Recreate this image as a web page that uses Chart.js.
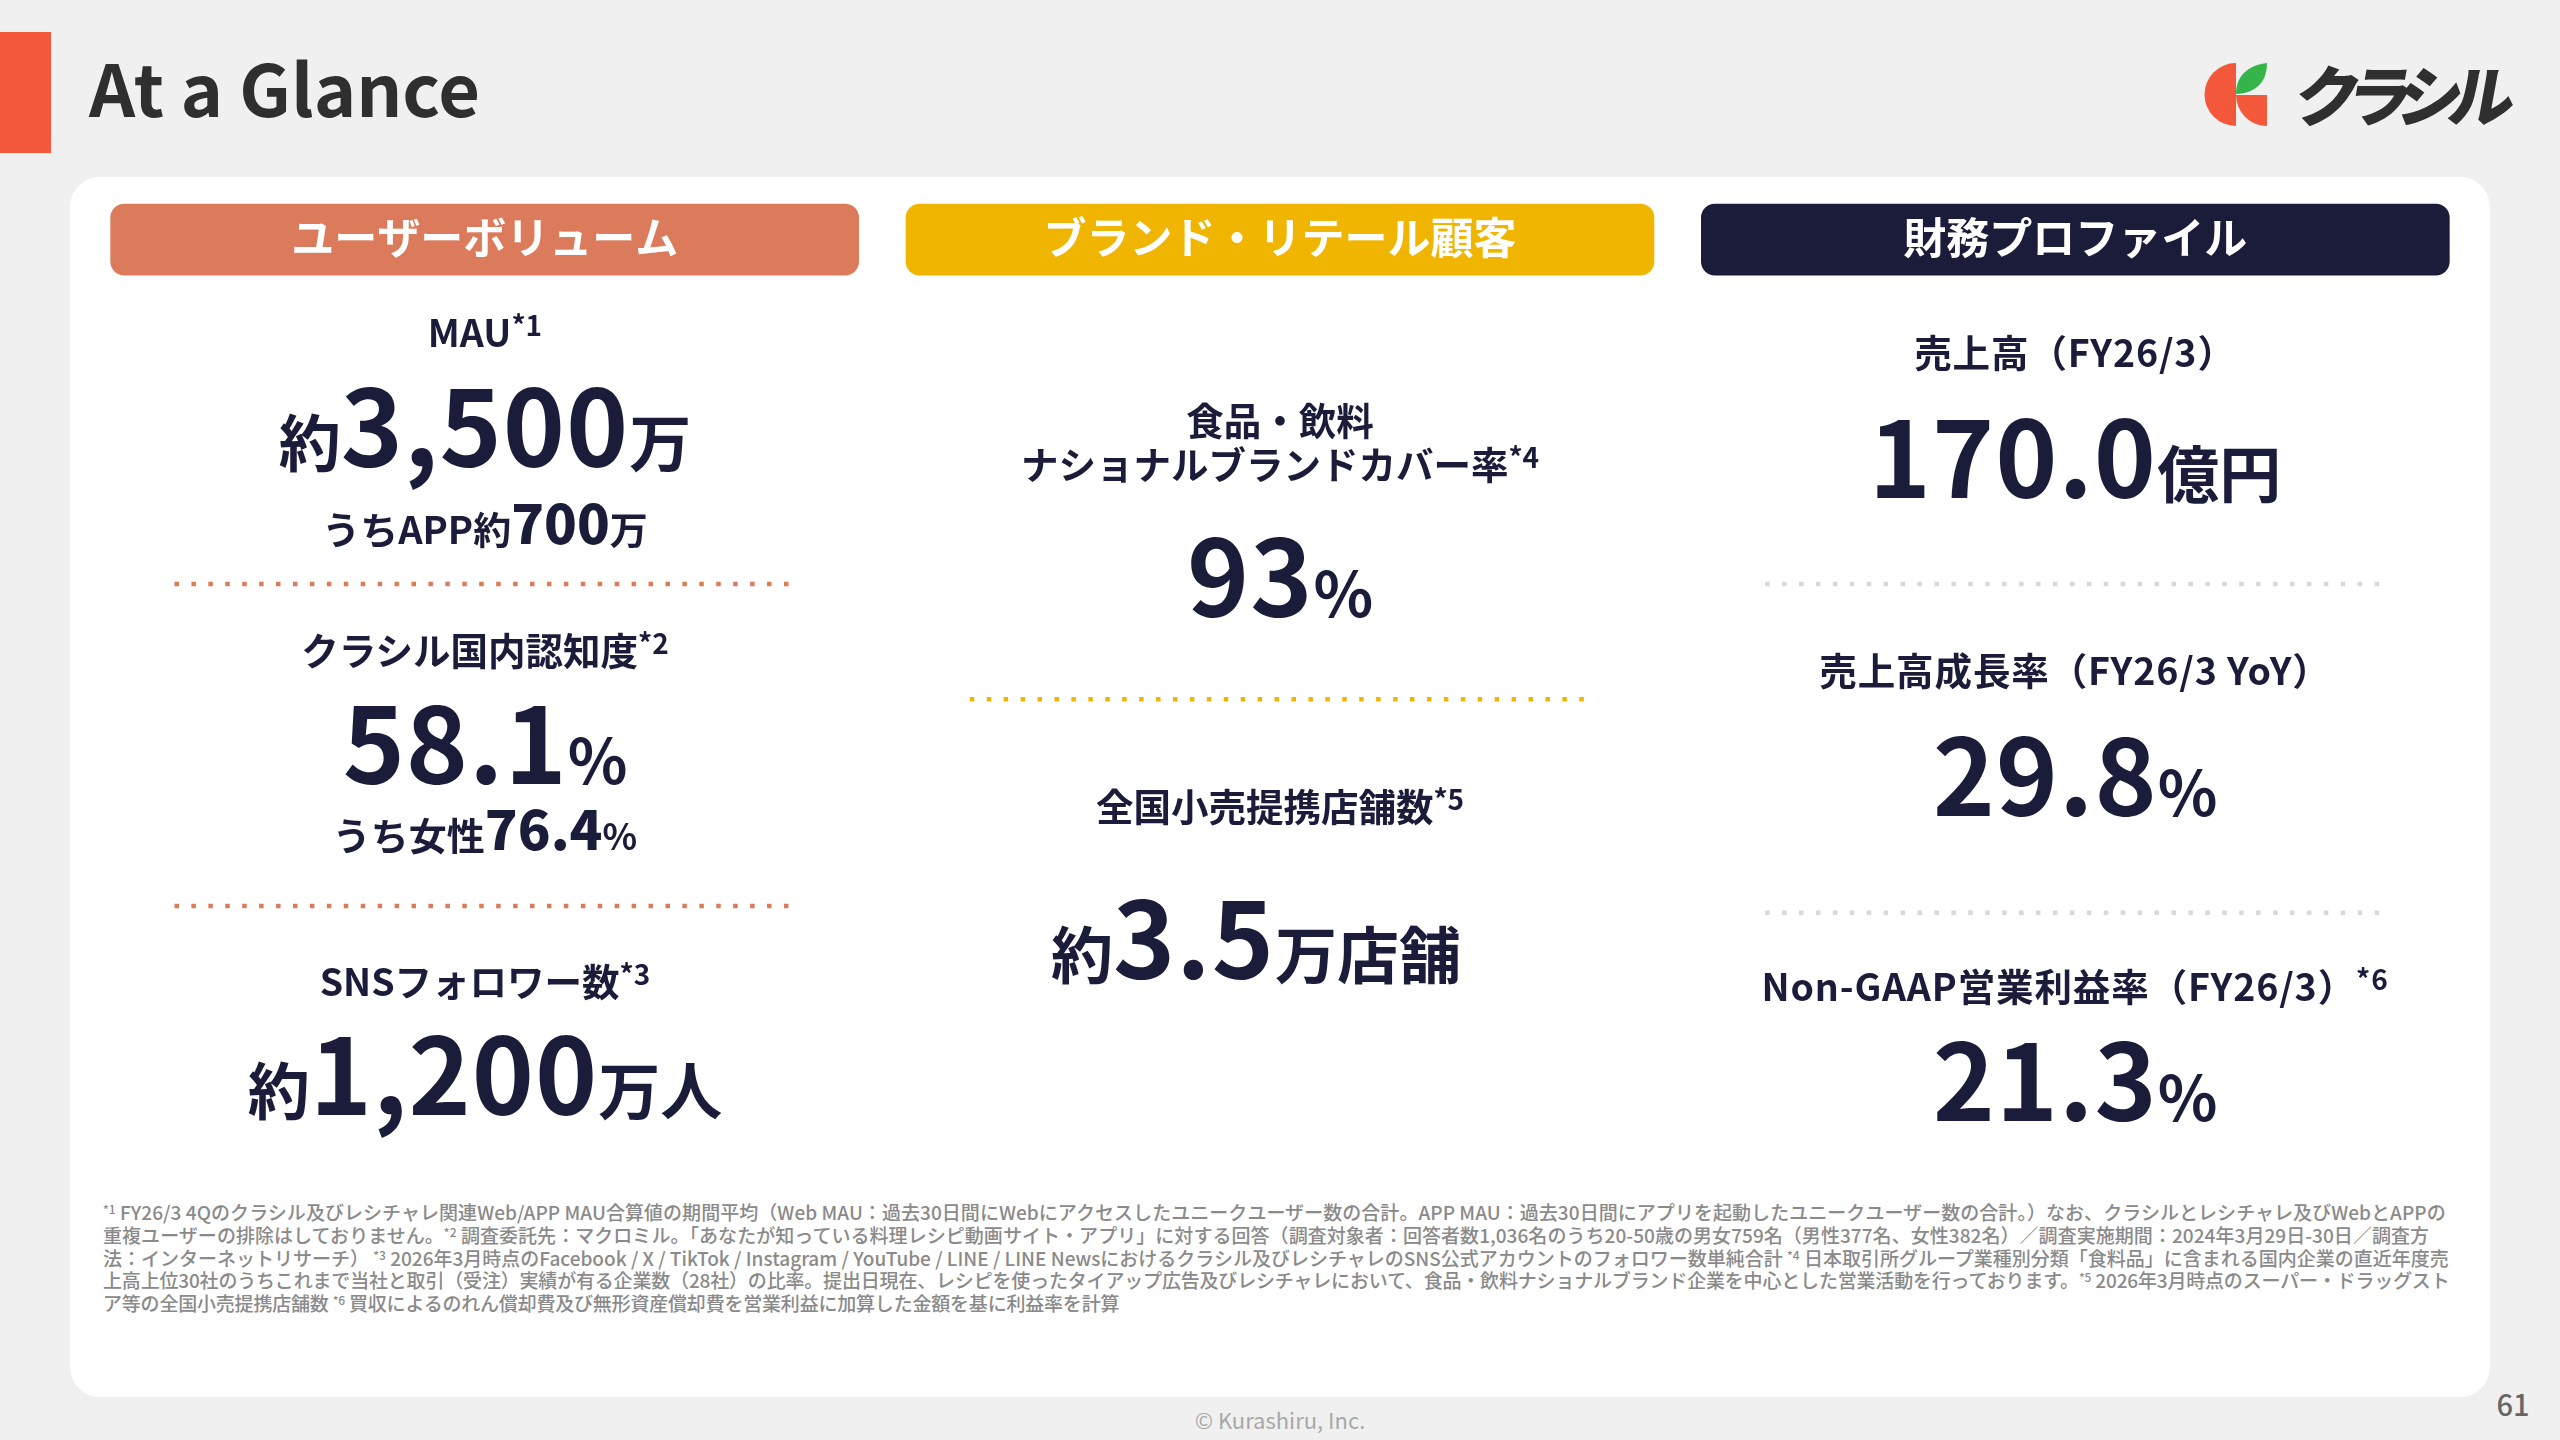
<!DOCTYPE html>
<html lang="ja">
<head>
<meta charset="utf-8">
<title>At a Glance</title>
<script src="https://cdn.jsdelivr.net/npm/chart.js"></script>
<style>
  html, body { margin: 0; padding: 0; background: #f0f0f0; }
  body { position: relative; width: 2560px; height: 1440px; overflow: hidden; font-family: "Noto Sans CJK JP", "Noto Sans", sans-serif; color: #1b1b3a; }
  .abs { position: absolute; }
  #accent { left: 0; top: 32px; width: 51px; height: 121px; background: #f4583a; }
  #title { left: 89px; top: 85px; transform: translateY(-50%); font-size: 72px; font-weight: 700; color: #2f2f2f; white-space: nowrap; }
  #card { left: 70px; top: 177px; width: 2420px; height: 1220px; background: #fff; border-radius: 30px; }
  #chart { left: 87px; top: 200px; }
  .t { position: absolute; transform: translate(-50%, -50%); white-space: nowrap; font-weight: 700; text-align: center; line-height: 1.18; }
  .label { font-size: 37.5px; }
  .label sup { font-size: 28px; line-height: 0; vertical-align: 11px; }
  .fin { letter-spacing: 0.9px; }
  .big { font-size: 105.5px; letter-spacing: 1px; }
  .unit { font-size: 62px; letter-spacing: 0; }
  .sub { font-size: 38px; }
  .sub b { font-size: 54px; }
  .sub i { font-style: normal; font-size: 36px; }
  #notes { left: 103px; top: 1201px; font-size: 19px; line-height: 22.8px; color: #8a8a8a; font-weight: 500; white-space: nowrap; }
  #notes sup { font-size: 12px; line-height: 0; vertical-align: 6px; }
  #copy { left: 1280px; top: 1419px; transform: translate(-50%, -50%); font-size: 22px; color: #a8a8a8; white-space: nowrap; }
  #page { left: 2513px; top: 1403px; transform: translate(-50%, -50%); font-size: 29px; color: #666; font-weight: 500; }
  #logo { left: 2200px; top: 50px; }
  #logoText { left: 2296px; top: 92px; transform: translateY(-50%) skewX(-10deg); font-size: 66px; font-weight: 900; letter-spacing: -14px; color: #2f2f2f; white-space: nowrap; }
</style>
</head>
<body>
<div id="accent" class="abs"></div>
<div id="title" class="abs">At a Glance</div>
<svg id="logo" class="abs" width="80" height="90" viewBox="2200 50 80 90">
  <path d="M2236 63 A31.5 31.5 0 0 0 2236 126 Z" fill="#f4583a"/>
  <path d="M2236 95 H2267 V126 A31 31 0 0 1 2236 95 Z" fill="#f4583a"/>
  <path d="M2236 94 C2236 76 2248 65 2267 63 C2267 82 2256 93 2236 94 Z" fill="#35b44a"/>
</svg>
<div id="logoText" class="abs">クラシル</div>
<div id="card" class="abs"></div>
<canvas id="chart" class="abs" width="2386" height="800"></canvas>
<div id="kpis"></div>
<div id="notes" class="abs"></div>
<div id="copy" class="abs">© Kurashiru, Inc.</div>
<div id="page" class="abs">61</div>

<script>
// data
const headers = ['ユーザーボリューム', 'ブランド・リテール顧客', '財務プロファイル'];
const headerColors = ['#db7b5b', '#f0b500', '#1b1b3a'];

const userLabels = ['MAU', 'クラシル国内認知度', 'SNSフォロワー数'];
const userNotes = ['*1', '*2', '*3'];
const userPrefix = ['約', '', '約'];
const userValues = ['3,500', '58.1', '1,200'];
const userUnits = ['万', '%', '万人'];
const userSubs = ['うちAPP約<b>700</b>万', 'うち女性<b>76.4</b><i>%</i>', ''];

const brandLabels = ['食品・飲料<br>ナショナルブランドカバー率', '全国小売提携店舗数'];
const brandNotes = ['*4', '*5'];
const brandPrefix = ['', '約'];
const brandValues = ['93', '3.5'];
const brandUnits = ['%', '万店舗'];

const financeLabels = ['売上高（FY26/3）', '売上高成長率（FY26/3 YoY）', 'Non-GAAP営業利益率（FY26/3）'];
const financeNotes = ['', '', '*6'];
const financeValues = ['170.0', '29.8', '21.3'];
const financeUnits = ['億円', '%', '%'];

const footnotes = [
  '<sup>*1</sup> FY26/3 4Qのクラシル及びレシチャレ関連Web/APP MAU合算値の期間平均（Web MAU：過去30日間にWebにアクセスしたユニークユーザー数の合計。APP MAU：過去30日間にアプリを起動したユニークユーザー数の合計。）なお、クラシルとレシチャレ及びWebとAPPの',
  '重複ユーザーの排除はしておりません。<sup>*2</sup> 調査委託先：マクロミル。「あなたが知っている料理レシピ動画サイト・アプリ」に対する回答（調査対象者：回答者数1,036名のうち20-50歳の男女759名（男性377名、女性382名）／調査実施期間：2024年3月29日-30日／調査方',
  '法：インターネットリサーチ） <sup>*3</sup> 2026年3月時点のFacebook / X / TikTok / Instagram / YouTube / LINE / LINE Newsにおけるクラシル及びレシチャレのSNS公式アカウントのフォロワー数単純合計 <sup>*4</sup> 日本取引所グループ業種別分類「食料品」に含まれる国内企業の直近年度売',
  '上高上位30社のうちこれまで当社と取引（受注）実績が有る企業数（28社）の比率。提出日現在、レシピを使ったタイアップ広告及びレシチャレにおいて、食品・飲料ナショナルブランド企業を中心とした営業活動を行っております。<sup>*5</sup> 2026年3月時点のスーパー・ドラッグスト',
  'ア等の全国小売提携店舗数 <sup>*6</sup> 買収によるのれん償却費及び無形資産償却費を営業利益に加算した金額を基に利益率を計算'
];

// layout, page pixels for the text blocks, percent of the canvas height for the chart marks
const colCenters = [485, 1280, 2075];
const userRows = [[331, 421, 521], [649, 738, 827], [980, 1069]];
const brandRows = [[441, 571], [805, 933]];
const brandValueShift = [0, -24];
const financeRows = [[351, 452], [669, 770], [985, 1075]];
const footnoteTracking = [0.05, 0.05, 0, -0.18, -0.2];
const headerSpan = [0.5, 9.4];
const dividerEnds = [0.11, 0.895];
const dividerRows = [[48, 88.25], [62.4], [48, 89.1]];
const dividerColors = ['#db7b5b', '#f0b500', '#d8d8d8'];

const kpis = document.getElementById('kpis');
function put(x, y, cls, html) {
  const el = document.createElement('div');
  el.className = 't ' + cls;
  el.style.left = x + 'px';
  el.style.top = y + 'px';
  el.innerHTML = html;
  kpis.appendChild(el);
}
function valueHtml(prefix, value, unit) {
  const pre = prefix ? `<span class="unit">${prefix}</span>` : '';
  return `${pre}${value}<span class="unit">${unit}</span>`;
}
function noteHtml(note) {
  return note ? `<sup>${note}</sup>` : '';
}

userLabels.forEach((label, i) => {
  const [ly, vy, sy] = userRows[i];
  put(colCenters[0], ly, 'label', label + noteHtml(userNotes[i]));
  put(colCenters[0], vy, 'big', valueHtml(userPrefix[i], userValues[i], userUnits[i]));
  if (userSubs[i]) put(colCenters[0], sy, 'sub', userSubs[i]);
});
brandLabels.forEach((label, i) => {
  const [ly, vy] = brandRows[i];
  put(colCenters[1], ly, 'label', label + noteHtml(brandNotes[i]));
  put(colCenters[1] + brandValueShift[i], vy, 'big', valueHtml(brandPrefix[i], brandValues[i], brandUnits[i]));
});
financeLabels.forEach((label, i) => {
  const [ly, vy] = financeRows[i];
  put(colCenters[2], ly, 'label fin', label + noteHtml(financeNotes[i]));
  put(colCenters[2], vy, 'big', valueHtml('', financeValues[i], financeUnits[i]));
});
document.getElementById('notes').innerHTML = footnotes
  .map((line, i) => `<span style="letter-spacing:${footnoteTracking[i]}px">${line}</span>`)
  .join('<br>');

// header pills are the bars, dotted rules are line datasets on a column-unit axis
const dividerSets = [];
dividerRows.forEach((rows, col) => {
  rows.forEach(y => {
    dividerSets.push({
      type: 'line',
      xAxisID: 'xd',
      data: dividerEnds.map(x => ({ x: col + x, y: y })),
      borderColor: dividerColors[col],
      borderWidth: 4.5,
      borderDash: [4.5, 12.43],
      pointRadius: 0,
    });
  });
});

const headerText = {
  id: 'headerText',
  afterDatasetsDraw(chart) {
    const ctx = chart.ctx;
    ctx.save();
    ctx.fillStyle = '#fff';
    ctx.font = '700 43px "Noto Sans CJK JP"';
    ctx.textAlign = 'center';
    ctx.textBaseline = 'middle';
    chart.getDatasetMeta(0).data.forEach((bar, i) => {
      ctx.fillText(headers[i], bar.x, bar.getCenterPoint().y - 1.5);
    });
    ctx.restore();
  }
};

new Chart(document.getElementById('chart').getContext('2d'), {
  type: 'bar',
  data: {
    labels: headers,
    datasets: [{
      xAxisID: 'x',
      data: headers.map(() => headerSpan),
      backgroundColor: headerColors,
      borderRadius: 14,
      borderSkipped: false,
      grouped: false,
      barThickness: 748,
    }, ...dividerSets]
  },
  options: {
    responsive: false,
    animation: false,
    plugins: { legend: { display: false }, tooltip: { enabled: false } },
    scales: {
      x: { type: 'category', offset: true, display: false },
      xd: { type: 'linear', offset: false, display: false, min: 0, max: 3 },
      y: { display: false, reverse: true, min: 0, max: 100 }
    }
  },
  plugins: [headerText]
});
</script>
</body>
</html>
